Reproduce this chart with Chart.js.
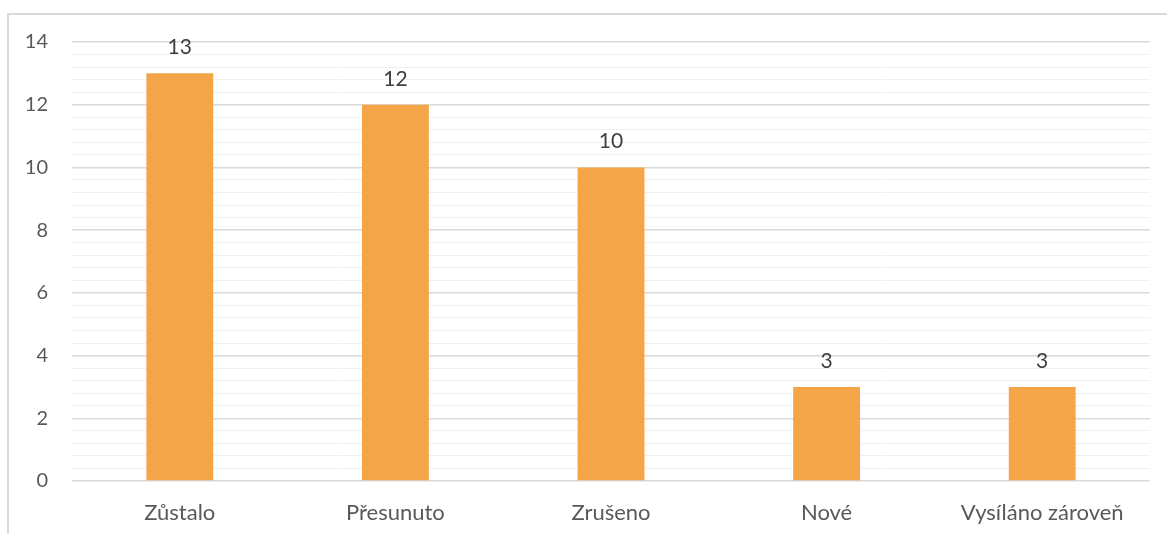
<!DOCTYPE html>
<html>
<head>
<meta charset="utf-8">
<script src="https://cdn.jsdelivr.net/npm/chart.js@4"></script>
<style>
  html, body { margin: 0; padding: 0; background: #fff; overflow: hidden; }
  #wrap { position: relative; width: 1167px; height: 534px; }
  #frame {
    position: absolute; left: 7px; top: 13px; width: 1200px; height: 600px;
    border: 2px solid #d9d9d9; box-sizing: border-box;
  }
  canvas { position: absolute; left: 0; top: 0; }
</style>
</head>
<body>
<div id="wrap">
  <div id="frame"></div>
  <canvas id="graf" width="1167" height="534"></canvas>
</div>
<script>
var kategorie = ["Zůstalo", "Přesunuto", "Zrušeno", "Nové", "Vysíláno zároveň"];
var pocty = [13, 12, 10, 3, 3];
var osaMax = 14;

var pismo = "Lato, 'Noto Sans', sans-serif";

function jeHlavni(v) {
  return Math.abs(v / 2 - Math.round(v / 2)) < 1e-6;
}

// popisky hodnot nad sloupci
var popiskyHodnot = {
  id: "popiskyHodnot",
  afterDatasetsDraw: function (chart) {
    var ctx = chart.ctx;
    var meta = chart.getDatasetMeta(0);
    ctx.save();
    ctx.font = "21px " + pismo;
    ctx.fillStyle = "#404040";
    ctx.textAlign = "center";
    ctx.textBaseline = "alphabetic";
    meta.data.forEach(function (bar, i) {
      ctx.fillText(String(pocty[i]), bar.x, bar.y - 19);
    });
    ctx.restore();
  },
};

var ctx = document.getElementById("graf").getContext("2d");
var graf = new Chart(ctx, {
  type: "bar",
  data: {
    labels: kategorie,
    datasets: [
      {
        data: pocty,
        backgroundColor: "#F3A548",
        borderWidth: 0,
        categoryPercentage: 1,
        barPercentage: 0.31,
      },
    ],
  },
  options: {
    responsive: false,
    animation: false,
    layout: { padding: { left: 0, right: 17, top: 42, bottom: 0 } },
    plugins: {
      legend: { display: false },
      tooltip: { enabled: false },
    },
    scales: {
      x: {
        grid: { display: false },
        border: { display: false },
        ticks: {
          color: "#595959",
          font: { family: pismo, size: 22 },
          padding: 11,
          maxRotation: 0,
        },
        afterFit: function (s) { s.height = 53; },
      },
      y: {
        min: 0,
        max: osaMax,
        border: { display: false },
        grid: {
          drawTicks: false,
          color: function (c) { return jeHlavni(c.tick.value) ? "#d9d9d9" : "#f0f0f0"; },
          lineWidth: function (c) { return jeHlavni(c.tick.value) ? 1.5 : 1; },
        },
        ticks: {
          stepSize: 0.4,
          autoSkip: false,
          color: "#595959",
          font: { family: pismo, size: 20 },
          padding: 24,
          callback: function (v) { return jeHlavni(v) ? String(Math.round(v)) : ""; },
        },
        afterFit: function (s) { s.width = 72; },
      },
    },
  },
  plugins: [popiskyHodnot],
});
</script>
</body>
</html>
